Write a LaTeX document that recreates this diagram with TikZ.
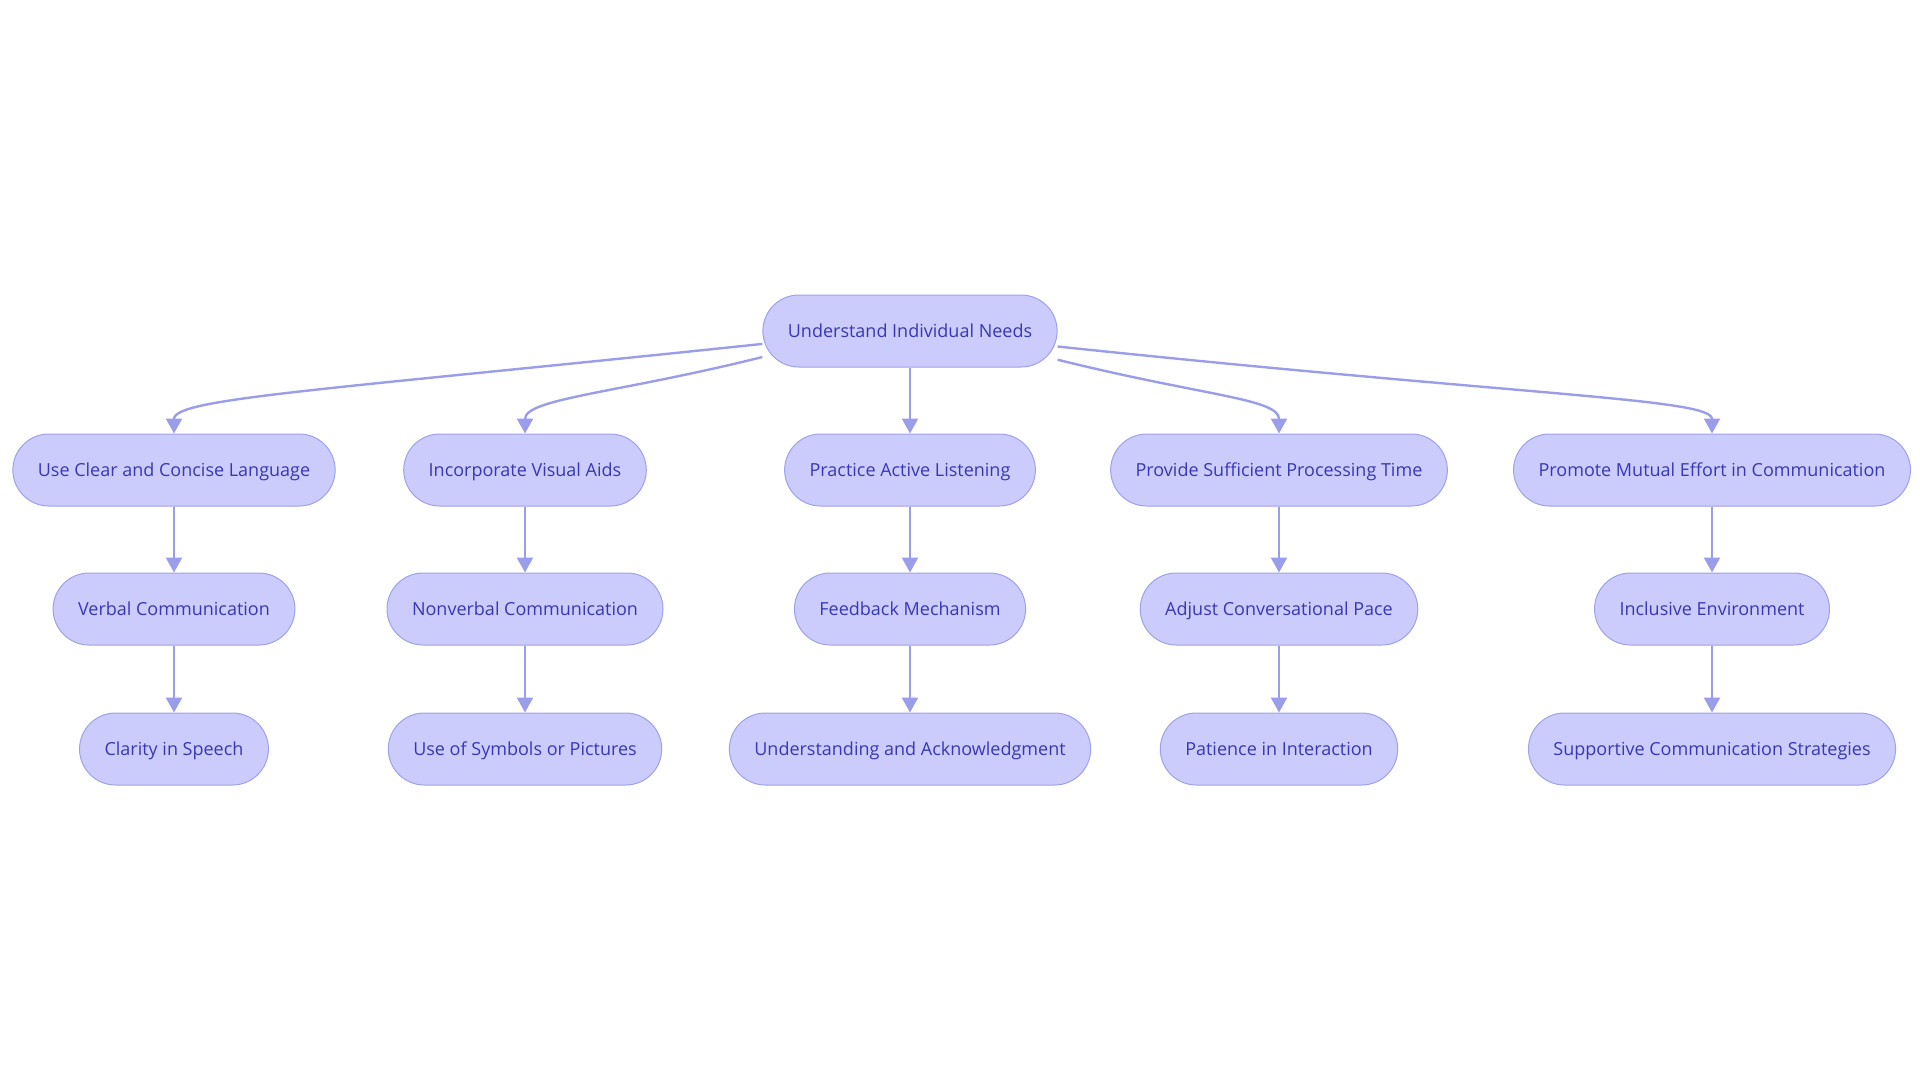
\documentclass[tikz,border=0pt]{standalone}
\usepackage{fontspec}
\setmainfont{Open Sans}
\usetikzlibrary{arrows.meta}

\definecolor{boxfill}{HTML}{CBCCFB}
\definecolor{boxline}{HTML}{9EA1EC}
\definecolor{boxtext}{HTML}{3838B4}
\definecolor{linkcol}{HTML}{9A9EEA}

\begin{document}
\begin{tikzpicture}[x=1pt, y=-1pt,
    box/.style={draw=boxline, line width=1pt, fill=boxfill, text=boxtext,
        rounded corners=36pt, minimum height=72pt, inner xsep=25pt,
        text height=12.9pt, text depth=0pt,
        font=\fontsize{18}{21}\selectfont},
    link/.style={draw=linkcol, line width=2.4pt, -{Triangle[width=16pt,length=15pt]}}]
    \useasboundingbox (0,0) rectangle (1920,1080);

    % Racine
    \node[box] (root) at (910,331) {Understand Individual Needs};

    % Niveau 1
    \node[box] (lang)   at (174,470)  {Use Clear and Concise Language};
    \node[box] (visual) at (525,470)  {Incorporate Visual Aids};
    \node[box] (listen) at (910,470)  {Practice Active Listening};
    \node[box] (time)   at (1279,470) {Provide Sufficient Processing Time};
    \node[box] (mutual) at (1712,470) {Promote Mutual Effort in Communication};

    % Niveau 2
    \node[box] (verbal)   at (174,609)  {Verbal Communication};
    \node[box] (nonverb)  at (525,609)  {Nonverbal Communication};
    \node[box] (feedback) at (910,609)  {Feedback Mechanism};
    \node[box] (pace)     at (1279,609) {Adjust Conversational Pace};
    \node[box] (inclus)   at (1712,609) {Inclusive Environment};

    % Niveau 3
    \node[box] (clarity)  at (174,749)  {Clarity in Speech};
    \node[box] (symbols)  at (525,749)  {Use of Symbols or Pictures};
    \node[box] (ack)      at (910,749)  {Understanding and Acknowledgment};
    \node[box] (patience) at (1279,749) {Patience in Interaction};
    \node[box] (support)  at (1712,749) {Supportive Communication Strategies};

    % Liens depuis la racine (axe y inverse : angles en miroir)
    \draw[link] (root.185.5) .. controls +(174:450) and +(270:35) .. (lang.north);
    \draw[link] (root.190.5) .. controls +(166:150) and +(270:35) .. (visual.north);
    \draw[link] (root) -- (listen);
    \draw[link] (root.349) .. controls +(14:150) and +(270:35) .. (time.north);
    \draw[link] (root.354.5) .. controls +(6:480) and +(270:35) .. (mutual.north);

    % Liens verticaux
    \foreach \a/\b/\c in {lang/verbal/clarity, visual/nonverb/symbols,
        listen/feedback/ack, time/pace/patience, mutual/inclus/support} {
        \draw[link] (\a) -- (\b);
        \draw[link] (\b) -- (\c);
    }
\end{tikzpicture}
\end{document}
